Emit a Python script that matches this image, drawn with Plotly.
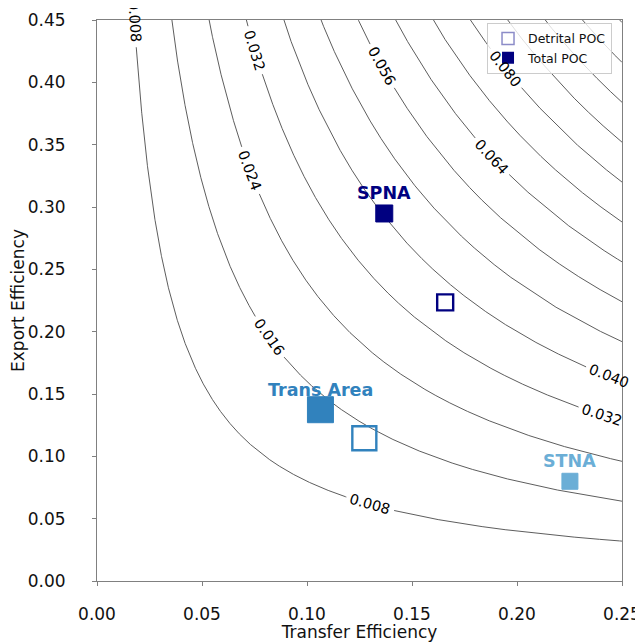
import numpy as np
import plotly.graph_objects as go

# ---------------- data ----------------
regions = ["SPNA", "Trans Area", "STNA"]
region_colors = ["#000080", "#3182bd", "#6baed6"]
total_te = [0.1368, 0.1064, 0.2252]
total_ee = [0.2948, 0.1374, 0.0800]
total_size = [17, 26, 16]
detrital_te = [0.1658, 0.1273]
detrital_ee = [0.2235, 0.1145]
detrital_colors = ["#000080", "#3182bd"]
detrital_size = [16, 24]

# contour levels of TE x EE
levels = [0.008, 0.016, 0.024, 0.032, 0.040, 0.048, 0.056,
          0.064, 0.072, 0.080, 0.088, 0.096, 0.104, 0.112]
# inline contour labels: (level, TE position along the line)
label_levels = [0.008, 0.032, 0.024, 0.016, 0.008, 0.032, 0.040, 0.056, 0.080, 0.064]
label_te = [0.01785, 0.0752, 0.0729, 0.0819, 0.1300, 0.2405, 0.2438, 0.1356, 0.1946, 0.1880]

x_ticks = [0.00, 0.05, 0.10, 0.15, 0.20, 0.25]
y_ticks = [0.00, 0.05, 0.10, 0.15, 0.20, 0.25, 0.30, 0.35, 0.40, 0.45]
x_range = [0.0, 0.25]
y_range = [0.0, 0.45]

# ---------------- layout geometry ----------------
# the page body adds an 8px offset, so the figure is 8px smaller than the window
W, H = 635, 634
ML, MR, MT, MB = 89, 21, 12, 61
PW, PH = W - ML - MR, H - MT - MB
kx = PW / (x_range[1] - x_range[0])
ky = PH / (y_range[1] - y_range[0])

FONT = "DejaVu Sans"
LABEL_FS = 14.5

fig = go.Figure()

# contour lines y = c / x with gaps under the inline labels
xs = np.linspace(0.001, 0.25, 3000)
for c in levels:
    ys = c / xs
    ys = np.where(ys > 0.47, np.nan, ys)
    for lc, lx in zip(label_levels, label_te):
        if abs(lc - c) < 1e-9:
            ly = c / lx
            half = (len(f"{c:.3f}") - 0.5) * 0.636 * LABEL_FS / 2 + 4
            d = np.hypot((xs - lx) * kx, (ys - ly) * ky)
            ys = np.where(d < half, np.nan, ys)
    fig.add_trace(go.Scatter(x=xs, y=ys, mode="lines",
                             line=dict(color="#333333", width=0.8),
                             hoverinfo="skip", showlegend=False))

# contour labels
for lc, lx in zip(label_levels, label_te):
    ly = lc / lx
    slope = lc / lx ** 2 * ky / kx
    ang = np.degrees(np.arctan(slope))
    fig.add_annotation(x=lx, y=ly, text=f"{lc:.3f}", showarrow=False,
                       textangle=ang, xanchor="center", yanchor="middle",
                       font=dict(family=FONT, size=LABEL_FS, color="black"))

# detrital POC markers (open squares)
for te, ee, col, sz in zip(detrital_te, detrital_ee, detrital_colors, detrital_size):
    fig.add_trace(go.Scatter(x=[te], y=[ee], mode="markers",
                             marker=dict(symbol="square-open", size=sz, color=col,
                                         line=dict(width=2.4, color=col)),
                             showlegend=False))

# total POC markers (filled squares) and region labels
for name, te, ee, col, sz in zip(regions, total_te, total_ee, region_colors, total_size):
    fig.add_trace(go.Scatter(x=[te], y=[ee], mode="markers",
                             marker=dict(symbol="square", size=sz, color=col,
                                         line=dict(width=1, color=col)),
                             showlegend=False))
    fig.add_annotation(x=te, y=ee, text=f"<b>{name}</b>", showarrow=False,
                       yshift=20, xanchor="center", yanchor="middle",
                       font=dict(family=FONT, size=17.5, color=col))

# legend entries
fig.add_trace(go.Scatter(x=[None], y=[None], mode="markers", name="Detrital POC",
                         marker=dict(symbol="square-open", size=12, color="#8c8cc8",
                                     line=dict(width=1.5, color="#8c8cc8"))))
fig.add_trace(go.Scatter(x=[None], y=[None], mode="markers", name="Total POC",
                         marker=dict(symbol="square", size=12, color="#000080")))

axis_common = dict(showline=True, mirror=True, linecolor="#808080", linewidth=1,
                   ticks="outside", ticklen=4, tickcolor="#808080",
                   showgrid=False, zeroline=False,
                   tickfont=dict(family=FONT, size=17, color="#111111"))

fig.update_layout(
    width=W, height=H,
    margin=dict(l=ML, r=MR, t=MT, b=MB, autoexpand=False),
    paper_bgcolor="white", plot_bgcolor="white",
    font=dict(family=FONT, color="#111111"),
    xaxis=dict(range=x_range, tickvals=x_ticks,
               ticktext=[f"{v:.2f}" for v in x_ticks],
               ticklabelstandoff=14,
               title=dict(text="Transfer Efficiency", font=dict(family=FONT, size=17), standoff=8),
               **axis_common),
    yaxis=dict(range=y_range, tickvals=y_ticks,
               ticktext=[f"{v:.2f}" for v in y_ticks],
               ticklabelstandoff=23,
               title=dict(text="Export Efficiency", font=dict(family=FONT, size=17), standoff=0),
               **axis_common),
    legend=dict(x=0.981, y=0.995, xanchor="right", yanchor="top",
                bgcolor="rgba(255,255,255,0.8)", bordercolor="#cccccc", borderwidth=1,
                font=dict(family=FONT, size=12.5, color="#111111")),
    showlegend=True,
)

fig.write_html("out.html")
